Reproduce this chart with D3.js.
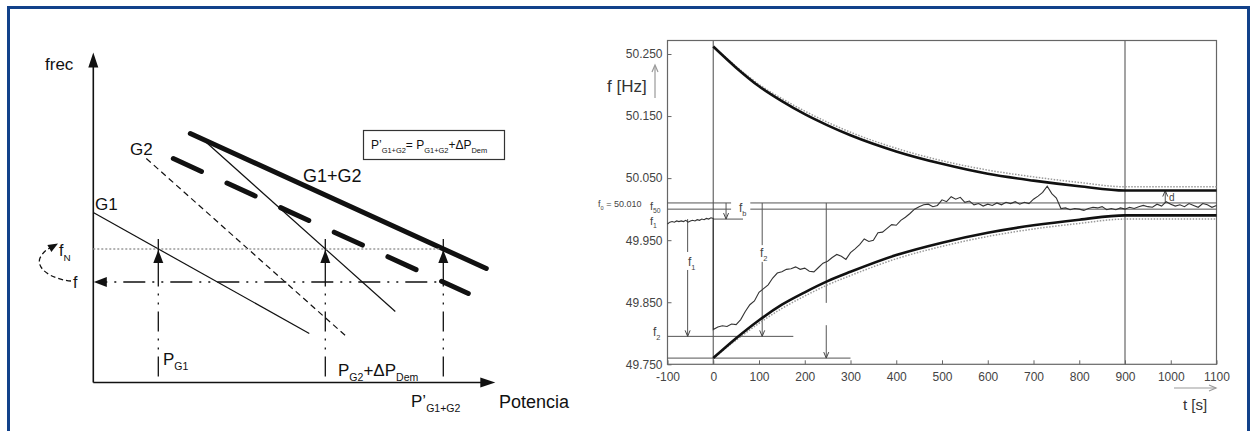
<!DOCTYPE html>
<html>
<head>
<meta charset="utf-8">
<script src="https://cdn.jsdelivr.net/npm/d3@7"></script>
<style>
  body { margin: 0; background: #fff; }
  svg text { font-family: "Liberation Sans", Arial, sans-serif; }
</style>
</head>
<body>
<svg width="1256" height="431"></svg>
<script>
// ---------- left panel: droop characteristics (schematic units, power x / freq y) ----------
const g1Droop    = [[0, 170], [216, 49]];
const g2Droop    = [[53, 224], [252, 47]];
const g2Shifted  = [[112, 241], [302, 71]];
const sumDroop   = [[97, 249], [393, 114]];
const sumShifted = [[80, 224], [375, 89]];
const levelFN = 133.5;
const levelF = 100.5;
const opPoints = [65, 232, 350];   // P_G1, P_G2+dP_Dem, P'_G1+G2

// ---------- right panel: frequency record ----------
const tTicks = [-100, 0, 100, 200, 300, 400, 500, 600, 700, 800, 900, 1000, 1100];
const fTicks = [49.75, 49.85, 49.95, 50.05, 50.15, 50.25];

const envT        = [0, 50, 100, 150, 200, 250, 300, 400, 500, 600, 700, 800, 900, 1100];
const envUpper    = [50.262, 50.228, 50.198, 50.174, 50.153, 50.135, 50.119, 50.093, 50.073, 50.057, 50.046, 50.037, 50.030, 50.030];
const envLower    = [49.760, 49.792, 49.821, 49.846, 49.866, 49.884, 49.899, 49.926, 49.946, 49.962, 49.974, 49.983, 49.990, 49.990];
const envUpperDot = [50.262, 50.230, 50.201, 50.178, 50.158, 50.140, 50.124, 50.098, 50.078, 50.063, 50.052, 50.043, 50.036, 50.036];
const envLowerDot = [49.760, 49.789, 49.816, 49.840, 49.860, 49.878, 49.893, 49.920, 49.940, 49.956, 49.968, 49.977, 49.984, 49.984];

const preT = [-100, -95, -90, -85, -80, -75, -70, -65, -60, -55, -50, -45, -40, -35, -30, -25, -20, -15, -10, -5, 0];
const preF = [49.976, 49.979, 49.980, 49.979, 49.981, 49.980, 49.981, 49.980, 49.982, 49.979, 49.981, 49.982, 49.981, 49.983, 49.982, 49.984, 49.983, 49.985, 49.984, 49.986, 49.985];

const postStep = 10;
const postF = [
  49.806, 49.810, 49.812, 49.811, 49.815, 49.814, 49.822, 49.835, 49.846, 49.852,
  49.866, 49.872, 49.878, 49.889, 49.897, 49.899, 49.903, 49.904, 49.907, 49.903,
  49.905, 49.900, 49.899, 49.906, 49.913, 49.916, 49.922, 49.927, 49.924, 49.919,
  49.930, 49.936, 49.943, 49.952, 49.948, 49.950, 49.962, 49.963, 49.969, 49.975,
  49.974, 49.982, 49.987, 49.993, 50.000, 50.004, 50.007, 50.008, 50.004, 50.006,
  50.015, 50.012, 50.020, 50.016, 50.019, 50.011, 50.013, 50.007, 50.009, 50.005,
  50.008, 50.006, 50.010, 50.007, 50.011, 50.009, 50.012, 50.008, 50.011, 50.009,
  50.016, 50.021, 50.027, 50.037, 50.025, 50.018, 50.001, 50.002, 49.999, 50.001,
  50.000, 49.998, 50.001, 50.003, 50.002, 50.004, 49.999, 50.001, 49.999, 50.002,
  50.000, 50.003, 50.001, 50.004, 50.006, 50.004, 50.003, 50.008, 50.005, 50.012,
  50.008, 50.005, 50.007, 50.004, 50.009, 50.006, 50.003, 50.009, 50.007, 50.003,
  50.006
];

const f0 = 50.010, f50 = 50.000, f1 = 49.984, f2 = 49.795, fMin = 49.760, fD = 50.030;

const svg = d3.select("svg");

// blue frame
svg.append("rect")
  .attr("x", 8.5).attr("y", 7.5).attr("width", 1240).attr("height", 440)
  .attr("fill", "none").attr("stroke", "#12418a").attr("stroke-width", 3);

// text with subscripts: parts = [[text, isSub], ...]
function subText(g, x, y, parts, size, opts = {}) {
  const t = g.append("text").attr("x", x).attr("y", y)
    .attr("font-size", size).attr("fill", opts.fill || "#111")
    .attr("text-anchor", opts.anchor || "start");
  let sub = false;
  parts.forEach(([s, isSub]) => {
    const ts = t.append("tspan").text(s);
    if (isSub && !sub) ts.attr("dy", size * 0.3);
    if (!isSub && sub) ts.attr("dy", -size * 0.3);
    ts.attr("font-size", isSub ? size * 0.62 : size);
    sub = isSub;
  });
  return t;
}

function tri(g, x, y, ang, len, half, fill) {
  const c = Math.cos(ang), s = Math.sin(ang);
  const bx = x - c * len, by = y - s * len;
  g.append("path")
    .attr("d", `M${x},${y}L${bx - s * half},${by + c * half}L${bx + s * half},${by - c * half}Z`)
    .attr("fill", fill || "#111");
}

// ================= LEFT PANEL =================
const L = svg.append("g");
const xP = d3.scaleLinear().domain([0, 400]).range([93.3, 493.3]);
const yF = d3.scaleLinear().domain([0, 330]).range([382.5, 52.5]);
const seg = d3.line().x(d => xP(d[0])).y(d => yF(d[1]));

// axes
L.append("line").attr("x1", xP(0)).attr("x2", xP(0)).attr("y1", yF(0)).attr("y2", yF(318))
  .attr("stroke", "#111").attr("stroke-width", 1.6);
tri(L, xP(0), yF(330), -Math.PI / 2, 15, 5);
L.append("line").attr("x1", xP(0)).attr("x2", xP(388)).attr("y1", yF(0)).attr("y2", yF(0))
  .attr("stroke", "#111").attr("stroke-width", 1.6);
tri(L, xP(402), yF(0), 0, 15, 5);

// droop lines
L.append("path").attr("d", seg(g1Droop)).attr("stroke", "#111").attr("stroke-width", 1.2).attr("fill", "none");
L.append("path").attr("d", seg(g2Droop)).attr("stroke", "#111").attr("stroke-width", 1.2)
  .attr("stroke-dasharray", "6,4").attr("fill", "none");
L.append("path").attr("d", seg(g2Shifted)).attr("stroke", "#111").attr("stroke-width", 1.2).attr("fill", "none");
L.append("path").attr("d", seg(sumDroop)).attr("stroke", "#111").attr("stroke-width", 5)
  .attr("stroke-linecap", "round").attr("fill", "none");
L.append("path").attr("d", seg(sumShifted)).attr("stroke", "#111").attr("stroke-width", 5)
  .attr("stroke-linecap", "round").attr("stroke-dasharray", "31,28").attr("fill", "none");

// fN dotted level
L.append("line").attr("x1", xP(0)).attr("x2", xP(opPoints[2] - 2)).attr("y1", yF(levelFN)).attr("y2", yF(levelFN))
  .attr("stroke", "#999").attr("stroke-width", 1.3).attr("stroke-dasharray", "2,2");
// f dash-dot level
L.append("line").attr("x1", xP(12)).attr("x2", xP(opPoints[2])).attr("y1", yF(levelF)).attr("y2", yF(levelF))
  .attr("stroke", "#111").attr("stroke-width", 1.3).attr("stroke-dasharray", "2,7,2,7,22,7");
tri(L, xP(0.5), yF(levelF), Math.PI, 13, 5);

opPoints.forEach(p => {
  L.append("line").attr("x1", xP(p)).attr("x2", xP(p)).attr("y1", yF(6)).attr("y2", yF(levelF))
    .attr("stroke", "#111").attr("stroke-width", 1.3).attr("stroke-dasharray", "20,7,2,7,2,7");
  L.append("line").attr("x1", xP(p)).attr("x2", xP(p)).attr("y1", yF(levelF)).attr("y2", yF(levelFN + 10))
    .attr("stroke", "#111").attr("stroke-width", 1.3);
  tri(L, xP(p), yF(levelFN - 1), -Math.PI / 2, 13, 5);
});

// curved dashed arrow fN <- f
L.append("path").attr("d", "M71,281 C50,279 36,268 40,258 C43,252 47,249 52,247")
  .attr("fill", "none").attr("stroke", "#111").attr("stroke-width", 1.3).attr("stroke-dasharray", "5,3");
tri(L, 58, 243.5, Math.atan2(-3.5, 6), 10, 4);

// labels
L.append("text").attr("x", 45).attr("y", 70).attr("font-size", 17).attr("fill", "#111").text("frec");
L.append("text").attr("x", 95).attr("y", 210).attr("font-size", 17).attr("fill", "#111").text("G1");
L.append("text").attr("x", 130).attr("y", 155).attr("font-size", 17).attr("fill", "#111").text("G2");
L.append("text").attr("x", 303).attr("y", 182).attr("font-size", 18).attr("fill", "#111").text("G1+G2");
subText(L, 59, 256, [["f", 0], ["N", 1]], 16);
L.append("text").attr("x", 73).attr("y", 288).attr("font-size", 16).attr("fill", "#111").text("f");
subText(L, 163, 365, [["P", 0], ["G1", 1]], 17);
subText(L, 338, 376, [["P", 0], ["G2", 1], ["+\u0394P", 0], ["Dem", 1]], 17);
subText(L, 411, 407, [["P\u2019", 0], ["G1+G2", 1]], 17);
L.append("text").attr("x", 499).attr("y", 408).attr("font-size", 18).attr("fill", "#111").text("Potencia");

// formula box
L.append("rect").attr("x", 363.5).attr("y", 130.5).attr("width", 141).attr("height", 29)
  .attr("fill", "#fff").attr("stroke", "#333").attr("stroke-width", 1.2);
subText(L, 371, 149, [["P\u2019", 0], ["G1+G2", 1], ["= P", 0], ["G1+G2", 1], ["+\u0394P", 0], ["Dem", 1]], 12);

// ================= RIGHT PANEL =================
const R = svg.append("g");
const x = d3.scaleLinear().domain([-100, 1100]).range([667.5, 1216.5]);
const y = d3.scaleLinear().domain([49.75, 50.25]).range([364.3, 54]);
const ink = "#444";

// frame
R.append("rect").attr("x", 667.5).attr("y", 40.5).attr("width", 549).attr("height", 323.8)
  .attr("fill", "none").attr("stroke", "#666").attr("stroke-width", 1.2);

// axes
const gx = R.append("g").attr("transform", `translate(0,${y(49.75)})`)
  .call(d3.axisBottom(x).tickValues(tTicks).tickSize(-4).tickSizeOuter(0).tickPadding(8).tickFormat(d => String(d)));
const gy = R.append("g").attr("transform", `translate(${x(-100)},0)`)
  .call(d3.axisLeft(y).tickValues(fTicks).tickSize(-4).tickSizeOuter(0).tickPadding(5).tickFormat(d => d.toFixed(3)));
[gx, gy].forEach(g => {
  g.select(".domain").remove();
  g.selectAll(".tick line").attr("stroke", "#666");
  g.selectAll(".tick text").attr("fill", ink).attr("font-size", 12).attr("font-family", "Liberation Sans, Arial, sans-serif");
});

// vertical event lines
[0, 900].forEach(t => {
  R.append("line").attr("x1", x(t)).attr("x2", x(t)).attr("y1", 40.5).attr("y2", y(49.75))
    .attr("stroke", "#666").attr("stroke-width", 1.2);
});

// horizontal reference lines
function hLine(v, t1, t2, w) {
  R.append("line").attr("x1", x(t1)).attr("x2", x(t2)).attr("y1", y(v)).attr("y2", y(v))
    .attr("stroke", "#555").attr("stroke-width", w || 1);
}
hLine(f0, -100, 39); hLine(f0, 81, 1100);
hLine(f50, -100, 39); hLine(f50, 81, 1100);
hLine(f1, 0, 65);
hLine(f2, -100, 175);
hLine(fMin, -100, 300);

// vertical arrows with optional gap
function vArrow(t, from, to, gap) {
  const xx = x(t);
  const pieces = gap ? [[from, gap[0]], [gap[1], to]] : [[from, to]];
  pieces.forEach(([a, b]) => {
    R.append("line").attr("x1", xx).attr("x2", xx).attr("y1", y(a)).attr("y2", y(b))
      .attr("stroke", "#555").attr("stroke-width", 1);
  });
  const dir = to < from ? 1 : -1;
  const ty = y(to);
  R.append("path").attr("d", `M${xx - 2.5},${ty - dir * 6}L${xx},${ty}L${xx + 2.5},${ty - dir * 6}`)
    .attr("fill", "none").attr("stroke", "#444").attr("stroke-width", 1);
}
vArrow(-56, f1, f2, [49.931, 49.902]);
vArrow(107, f0, f2, [49.942, 49.915]);
vArrow(247, f0, fMin, [49.849, 49.813]);
vArrow(28, f0, f1);
vArrow(988, f0, fD);

// envelopes
const curve = d3.line().x((d, i) => x(envT[i])).y(d => y(d)).curve(d3.curveMonotoneX);
[envUpperDot, envLowerDot].forEach(arr => {
  R.append("path").attr("d", curve(arr)).attr("fill", "none")
    .attr("stroke", "#999").attr("stroke-width", 1.5).attr("stroke-dasharray", "1.5,1.5");
});
[envUpper, envLower].forEach(arr => {
  R.append("path").attr("d", curve(arr)).attr("fill", "none")
    .attr("stroke", "#111").attr("stroke-width", 2.6);
});

// measured trace
const trace = preT.map((t, i) => [t, preF[i]]).concat(postF.map((f, i) => [i * postStep, f]));
R.append("path")
  .attr("d", d3.line().x(d => x(d[0])).y(d => y(d[1]))(trace))
  .attr("fill", "none").attr("stroke", "#333").attr("stroke-width", 1.1);

// labels
R.append("text").attr("x", 607).attr("y", 92).attr("font-size", 17).attr("fill", "#333").text("f [Hz]");
R.append("line").attr("x1", 655).attr("x2", 655).attr("y1", 98).attr("y2", 66).attr("stroke", "#999").attr("stroke-width", 1.2);
R.append("path").attr("d", "M652,72L655,65L658,72").attr("fill", "none").attr("stroke", "#999").attr("stroke-width", 1.2);

R.append("text").attr("x", 1183).attr("y", 410).attr("font-size", 15).attr("fill", "#333").text("t [s]");
R.append("line").attr("x1", 1174).attr("x2", 1216).attr("y1", 388).attr("y2", 388).attr("stroke", "#999").attr("stroke-width", 1.2);
R.append("path").attr("d", "M1209,385L1216,388L1209,391").attr("fill", "none").attr("stroke", "#999").attr("stroke-width", 1.2);

subText(R, 598, 207, [["f", 0], ["0", 1], [" = 50.010", 0]], 9, { fill: ink });
subText(R, 650, 210, [["f", 0], ["50", 1]], 11, { fill: ink });
subText(R, 650, 225, [["f", 0], ["1", 1]], 11, { fill: ink });
subText(R, 653, 336, [["f", 0], ["2", 1]], 12, { fill: ink });
subText(R, 739, 212, [["f", 0], ["b", 1]], 12, { fill: ink });
subText(R, 688, 266, [["f", 0], ["1", 1]], 12, { fill: ink });
subText(R, 760, 257, [["f", 0], ["2", 1]], 12, { fill: ink });
R.append("text").attr("x", 1169).attr("y", 201).attr("font-size", 10).attr("fill", ink).text("d");
</script>
</body>
</html>
